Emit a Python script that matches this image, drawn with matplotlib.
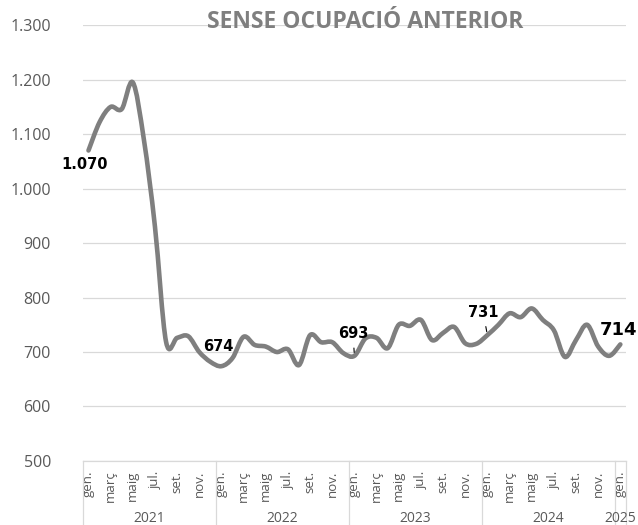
import matplotlib
matplotlib.use("Agg")
import matplotlib.pyplot as plt
from matplotlib.path import Path
from matplotlib.patches import PathPatch
import matplotlib.transforms as mtransforms
import numpy as np

# monthly values, gen. 2021 -> gen. 2025
values = [1070, 1122, 1150, 1146, 1195, 1090, 930, 719, 726, 729, 700, 682,
          674, 689, 728, 713, 710, 700, 705, 676, 731, 718, 718, 698,
          693, 725, 726, 707, 750, 748, 759, 722, 735, 746, 716, 715,
          731, 750, 771, 764, 780, 759, 740, 691, 722, 750, 710, 693,
          714]
month_names = ["gen.", "febr.", "març", "abr.", "maig", "juny",
               "jul.", "ag.", "set.", "oct.", "nov.", "des."]
years = ["2021", "2022", "2023", "2024", "2025"]
labelled = {0: "1.070", 12: "674", 24: "693", 36: "731", 48: "714"}

grey_txt = "#595959"
grid_c = "#d9d9d9"
line_c = "#7f7f7f"

fig = plt.figure(figsize=(6.38, 5.25), dpi=100)
ax = fig.add_axes([0.130, 0.122, 0.851, 0.830])

n = len(values)
x = np.arange(n)
y = np.array(values, dtype=float)

# smoothed line (Excel-style Catmull-Rom -> Bezier)
verts = [(x[0], y[0])]
codes = [Path.MOVETO]
for i in range(n - 1):
    p0 = np.array([x[max(i - 1, 0)], y[max(i - 1, 0)]])
    p1 = np.array([x[i], y[i]])
    p2 = np.array([x[i + 1], y[i + 1]])
    p3 = np.array([x[min(i + 2, n - 1)], y[min(i + 2, n - 1)]])
    c1 = p1 + (p2 - p0) / 6
    c2 = p2 - (p3 - p1) / 6
    verts += [tuple(c1), tuple(c2), tuple(p2)]
    codes += [Path.CURVE4] * 3
ax.add_patch(PathPatch(Path(verts, codes), facecolor="none", edgecolor=line_c,
                       lw=3.3, capstyle="round", joinstyle="round", zorder=3))

ax.set_xlim(-0.5, n - 0.5)
ax.set_ylim(500, 1300)
ax.set_yticks(range(500, 1301, 100))
ax.set_yticklabels([f"{v:,}".replace(",", ".") for v in range(500, 1301, 100)],
                   fontfamily="Open Sans", fontsize=11.5, color=grey_txt)
ax.tick_params(axis="y", length=0, pad=23)
ax.grid(axis="y", color=grid_c, lw=0.9)
ax.set_axisbelow(True)
for s in ["left", "right", "top"]:
    ax.spines[s].set_visible(False)
ax.spines["bottom"].set_color(grid_c)
ax.spines["bottom"].set_linewidth(0.9)

ticks = list(range(0, n, 2))
ax.set_xticks(ticks)
ax.set_xticklabels([month_names[i % 12] for i in ticks], rotation=90,
                   fontfamily="Open Sans", fontsize=9.5, color=grey_txt,
                   va="top", ha="center")
ax.tick_params(axis="x", length=0, pad=7)

# year group labels and separators
trans = mtransforms.blended_transform_factory(ax.transData, ax.transAxes)
bounds = [-0.5, 11.5, 23.5, 35.5, 47.5, 48.5]
for b in bounds:
    ax.plot([b, b], [0, -0.16], transform=trans, color=grid_c, lw=0.9,
            clip_on=False)
for k, yr in enumerate(years):
    ax.text((bounds[k] + bounds[k + 1]) / 2, -0.116, yr, transform=trans,
            ha="center", va="top", fontfamily="Open Sans", fontsize=10,
            color=grey_txt)

# data labels
offsets = {0: (-2.5, -10), 12: (-2, 14), 24: (-1, 16), 36: (-3, 16.5), 48: (-1.5, 10)}
for i, txt in labelled.items():
    size = 13 if i == 48 else 10.5
    kw = {}
    if i in (24, 36):
        kw["arrowprops"] = dict(arrowstyle="-", color="black", lw=0.8,
                                shrinkA=3, shrinkB=2.5)
    ax.annotate(txt, (x[i], y[i]), xytext=offsets[i], textcoords="offset points",
                ha="center", va="center", fontsize=size, fontweight="bold",
                fontfamily="DejaVu Sans", color="black", zorder=5,
                annotation_clip=False, **kw)

fig.text(0.573, 0.958, "SENSE OCUPACIÓ ANTERIOR", ha="center", va="center",
         fontfamily="Open Sans", fontweight="bold", fontsize=16.5, color=line_c)

fig.savefig("out.png", dpi=100)
